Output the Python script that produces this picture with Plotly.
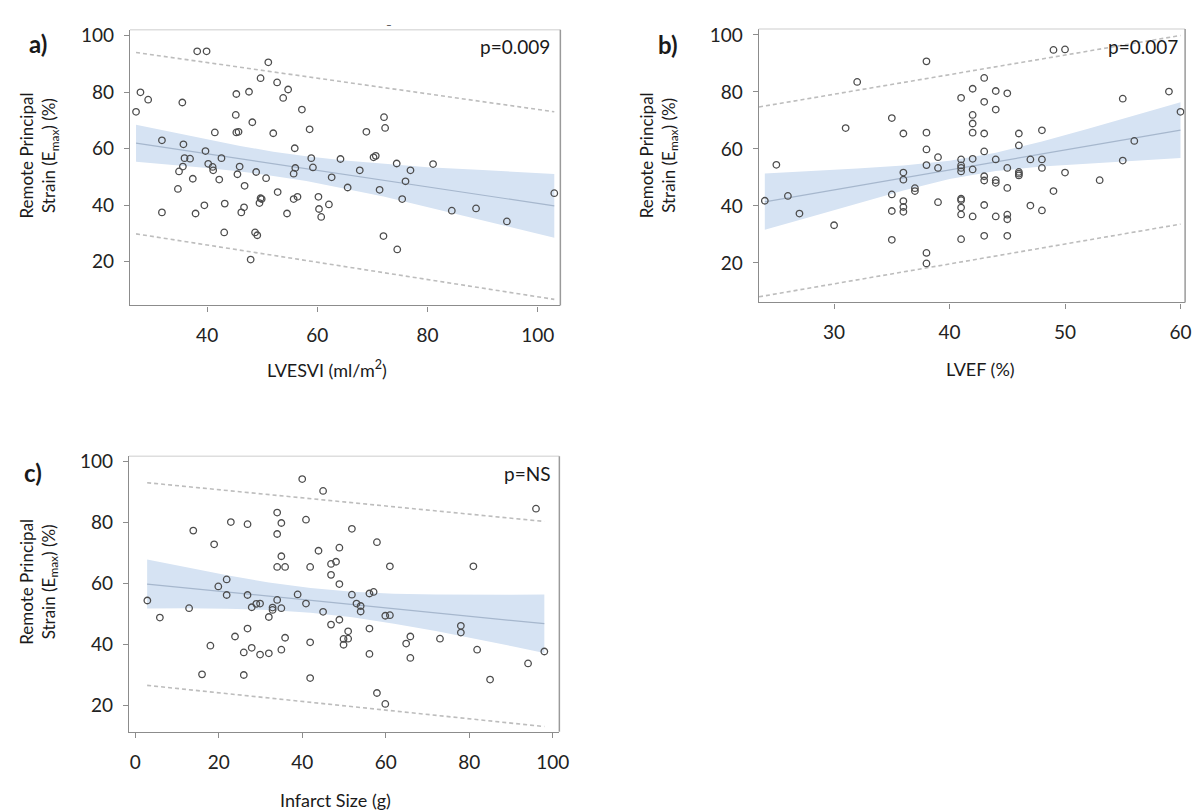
import plotly.graph_objects as go

# ---------------- data ----------------
a_x = [38.2, 39.9, 51.1, 27.9, 29.3, 27.1, 35.5, 45.3, 47.6, 49.7,
       52.7, 54.7, 53.8, 57.2, 45.2, 48.2, 45.3, 45.7, 41.4, 52.0,
       58.6, 72.1, 72.3, 68.9, 31.8, 35.7, 39.7, 35.9, 36.9, 42.6,
       40.2, 41.0, 41.1, 35.6, 34.9, 45.9, 45.5, 48.9, 50.7, 37.4,
       42.2, 34.7, 46.8, 55.9, 58.9, 56.0, 59.2, 55.7, 64.2, 62.6,
       67.7, 70.2, 70.6, 74.4, 76.9, 81.0, 76.0, 65.5, 71.3, 75.4,
       52.8, 49.7, 49.5, 49.9, 56.4, 55.7, 60.2, 62.1, 60.3, 60.7,
       54.5, 46.7, 46.2, 43.2, 39.5, 31.8, 37.9, 43.1, 48.7, 49.1,
       47.9, 72.0, 74.5, 84.4, 88.8, 94.4, 103.0]
a_y = [94.4, 94.4, 90.5, 79.9, 77.3, 73.0, 76.3, 79.3, 80.1, 84.9,
       83.4, 80.9, 77.9, 73.8, 71.9, 69.3, 65.7, 65.9, 65.7, 65.4,
       66.8, 71.1, 67.3, 65.9, 62.9, 61.5, 59.1, 56.6, 56.4, 56.6,
       54.6, 53.5, 52.3, 53.6, 51.9, 53.6, 50.9, 51.7, 49.5, 49.3,
       49.0, 45.7, 46.8, 60.1, 56.6, 53.1, 53.3, 51.1, 56.3, 49.8,
       52.3, 56.9, 57.4, 54.7, 52.3, 54.5, 48.4, 46.2, 45.4, 42.1,
       44.6, 42.4, 40.7, 42.1, 42.9, 42.1, 42.9, 40.2, 38.6, 35.8,
       37.0, 39.2, 37.4, 40.5, 39.9, 37.4, 37.0, 30.3, 30.3, 29.3,
       20.7, 29.0, 24.3, 38.0, 38.8, 34.2, 44.2]
a_fit_x = [27.1, 103.0]
a_fit_y = [61.9, 39.7]
a_pred_upper = [94.0, 73.0]
a_pred_lower = [29.8, 6.6]
a_band_x = [27.1, 34, 40, 46, 52, 58, 65, 72, 80, 90, 103]
a_band_upper = [68.4, 65.6, 63.1, 60.9, 58.9, 57.3, 55.8, 54.6, 53.4, 52.4, 51.0]
a_band_lower = [55.3, 54.2, 53.1, 51.9, 50.3, 48.5, 45.8, 43.0, 39.4, 34.6, 28.4]

b_x = [24, 25, 26, 27, 30, 31, 32,
       35, 35, 35, 35,
       36, 36, 36, 36, 36, 36,
       37, 37,
       38, 38, 38, 38, 38, 38,
       39, 39, 39,
       41, 41, 41, 41, 41, 41, 41, 41, 41, 41,
       42, 42, 42, 42, 42, 42, 42,
       43, 43, 43, 43, 43, 43, 43, 43,
       44, 44, 44, 44, 44, 44,
       45, 45, 45, 45, 45, 45,
       46, 46, 46, 46, 46,
       47, 47,
       48, 48, 48, 48,
       49, 49,
       50, 50,
       53,
       55, 55,
       56, 59, 60]
b_y = [41.8, 54.4, 43.5, 37.3, 33.2, 67.3, 83.5,
       70.8, 44.0, 38.2, 28.1,
       65.4, 51.7, 49.2, 41.7, 39.6, 37.9,
       46.2, 45.2,
       90.7, 65.7, 59.8, 54.3, 23.5, 19.8,
       57.1, 53.3, 41.3,
       77.9, 56.3, 54.2, 53.3, 52.1, 42.5, 42.0, 39.4, 37.0, 28.3,
       81.1, 71.9, 68.9, 65.7, 56.5, 52.8, 36.3,
       84.9, 76.5, 65.4, 59.1, 50.4, 48.9, 40.3, 29.5,
       80.3, 73.8, 56.3, 49.0, 48.1, 36.3,
       79.5, 53.3, 46.3, 36.9, 35.3, 29.5,
       65.4, 61.2, 51.9, 51.3, 50.7,
       56.3, 40.1,
       66.5, 56.3, 53.3, 38.4,
       94.7, 45.2,
       94.9, 51.7,
       49.0,
       77.6, 55.9,
       62.8, 80.1, 73.0]
b_fit_x = [24, 60]
b_fit_y = [41.4, 66.6]
b_pred_x = [23.5, 60]
b_pred_upper = [74.7, 99.8]
b_pred_lower = [8.1, 33.6]
b_band_x = [24, 28, 32, 36, 40, 44, 48, 52, 56, 60]
b_band_upper = [51.4, 52.2, 53.1, 54.2, 55.8, 58.6, 62.6, 67.1, 71.8, 76.4]
b_band_lower = [31.6, 36.2, 40.9, 45.4, 49.4, 52.2, 53.8, 54.9, 55.8, 56.8]

c_x = [40.0, 45.0, 96.0, 13.9, 22.9, 26.9, 34.0, 35.0, 34.0, 40.9,
       51.9, 18.9, 43.9, 48.9, 57.9, 35.0, 34.0, 35.9, 41.9, 46.9,
       48.1, 46.9, 61.0, 81.0, 48.9, 21.9, 19.9, 21.9, 26.9, 38.9,
       51.9, 56.1, 57.1, 34.0, 2.9, 12.9, 27.9, 29.0, 29.9, 32.9,
       32.9, 35.0, 40.9, 45.0, 53.0, 54.0, 54.0, 59.9, 61.0, 32.0,
       5.9, 48.9, 46.9, 26.9, 56.1, 78.0, 78.0, 23.9, 35.9, 51.0,
       49.9, 51.0, 49.9, 41.9, 65.9, 64.9, 73.0, 18.0, 27.9, 26.0,
       29.9, 32.0, 35.0, 56.1, 65.9, 81.9, 98.0, 94.1, 16.0, 26.0,
       41.9, 85.0, 57.9, 59.9]
c_y = [94.3, 90.4, 84.6, 77.4, 80.2, 79.5, 83.3, 79.9, 76.3, 81.0,
       78.0, 72.9, 70.8, 71.8, 73.6, 69.0, 65.5, 65.5, 65.5, 66.5,
       67.2, 62.9, 65.7, 65.7, 59.9, 61.4, 59.1, 56.3, 56.3, 56.5,
       56.4, 56.8, 57.3, 54.7, 54.5, 52.0, 52.3, 53.4, 53.5, 52.2,
       51.4, 52.0, 53.5, 50.8, 53.5, 52.7, 50.9, 49.5, 49.7, 49.1,
       48.9, 48.2, 46.6, 45.3, 45.3, 46.2, 44.0, 42.7, 42.3, 44.4,
       41.9, 42.0, 40.0, 40.8, 42.7, 40.4, 42.0, 39.7, 39.0, 37.5,
       36.8, 37.2, 38.4, 37.0, 35.7, 38.4, 37.8, 33.9, 30.3, 30.1,
       29.1, 28.6, 24.2, 20.6]
c_fit_x = [2.85, 98.0]
c_fit_y = [59.9, 46.9]
c_pred_upper = [93.1, 80.4]
c_pred_lower = [26.7, 13.2]
c_band_x = [2.85, 12, 22, 32, 42, 52, 62, 72, 82, 90, 98]
c_band_upper = [67.9, 65.4, 62.8, 60.4, 58.6, 57.4, 56.7, 56.5, 56.4, 56.4, 56.5]
c_band_lower = [51.9, 52.0, 51.8, 51.4, 50.5, 49.0, 46.9, 44.5, 41.8, 39.6, 37.3]

y_ticks = [20, 40, 60, 80, 100]
a_xticks = [40, 60, 80, 100]
b_xticks = [30, 40, 50, 60]
c_xticks = [0, 20, 40, 60, 80, 100]

# ---------------- figure ----------------
W, H = 1200, 810
FONT = "Lato"
AX_COL = "#8c8c8c"
fig = go.Figure()


def add_panel(sfx, xs, ys, fit_x, fit_y, pred_x, pu, pl, bx, bu, bl):
    xa, ya = "x" + sfx, "y" + sfx
    fig.add_trace(go.Scatter(
        x=bx + bx[::-1], y=bu + bl[::-1], xaxis=xa, yaxis=ya,
        fill="toself", fillcolor="rgba(214,227,243,1)",
        line=dict(width=0), mode="lines", hoverinfo="skip", showlegend=False))
    fig.add_trace(go.Scatter(
        x=fit_x, y=fit_y, xaxis=xa, yaxis=ya, mode="lines",
        line=dict(color="#a6b7cd", width=1.2), showlegend=False))
    for py in (pu, pl):
        fig.add_trace(go.Scatter(
            x=pred_x, y=py, xaxis=xa, yaxis=ya, mode="lines",
            line=dict(color="#bdbdbd", width=1.6, dash="4px,3px"),
            showlegend=False))
    fig.add_trace(go.Scatter(
        x=xs, y=ys, xaxis=xa, yaxis=ya, mode="markers",
        marker=dict(symbol="circle-open", size=6.5, color="#4d4d4d",
                    line=dict(width=1.3, color="#4d4d4d")),
        showlegend=False))


add_panel("", a_x, a_y, a_fit_x, a_fit_y, a_fit_x, a_pred_upper, a_pred_lower,
          a_band_x, a_band_upper, a_band_lower)
add_panel("2", b_x, b_y, b_fit_x, b_fit_y, b_pred_x, b_pred_upper, b_pred_lower,
          b_band_x, b_band_upper, b_band_lower)
add_panel("3", c_x, c_y, c_fit_x, c_fit_y, c_fit_x, c_pred_upper, c_pred_lower,
          c_band_x, c_band_upper, c_band_lower)


def px_dom_x(l, r):
    return [l / W, r / W]


def px_dom_y(t, b):
    return [1 - b / H, 1 - t / H]


axis_common = dict(showgrid=False, zeroline=False, showline=True,
                   linecolor=AX_COL, linewidth=1.2, ticks="outside",
                   ticklen=5, tickcolor=AX_COL, tickwidth=1,
                   tickfont=dict(family=FONT, size=19, color="#222"))

panels = {
    "": dict(xd=px_dom_x(123, 557), yd=px_dom_y(15, 293), xr=[26, 104.1],
             yr=[4.45, 102], xt=a_xticks),
    "2": dict(xd=px_dom_x(757, 1187), yd=px_dom_y(14, 290), xr=[23.47, 60.4],
              yr=[6.1, 102.1], xt=b_xticks),
    "3": dict(xd=px_dom_x(122, 556), yd=px_dom_y(445, 723), xr=[-1.5, 101.6],
              yr=[11.5, 101.8], xt=c_xticks),
}

layout_axes = {}
shapes = []
for sfx, p in panels.items():
    layout_axes["xaxis" + sfx] = dict(axis_common, domain=p["xd"], range=p["xr"],
                                      tickvals=p["xt"], anchor="y" + sfx,
                                      ticklabelstandoff=8)
    layout_axes["yaxis" + sfx] = dict(axis_common, domain=p["yd"], range=p["yr"],
                                      tickvals=y_ticks, anchor="x" + sfx,
                                      ticklabelstandoff=6)
    xr = "x" + sfx + " domain"
    yr = "y" + sfx + " domain"
    shapes.append(dict(type="line", xref=xr, yref=yr, x0=0, x1=1, y0=1, y1=1,
                       line=dict(color="#dedede", width=1.5)))
    shapes.append(dict(type="line", xref=xr, yref=yr, x0=1, x1=1, y0=0, y1=1,
                       line=dict(color="#9a9a9a", width=1.5)))


def ann(x, y, text, size, bold=False, xanchor="center", angle=0, color="#1a1a1a"):
    return dict(x=x / W, y=1 - y / H, xref="paper", yref="paper", text=text,
                showarrow=False, xanchor=xanchor, yanchor="middle",
                textangle=angle,
                font=dict(family=FONT, size=size, color=color,
                          weight="bold" if bold else "normal"))


ytitle = "Remote Principal<br>Strain (E<sub>max</sub>) (%)"
annotations = [
    ann(30, 29, "a)", 24, bold=True),
    ann(666, 30, "b)", 24, bold=True),
    ann(25, 461, "c)", 24, bold=True),
    ann(31, 142, ytitle, 17, angle=-90),
    ann(656, 142, ytitle, 17, angle=-90),
    ann(31, 572, ytitle, 17, angle=-90),
    ann(322, 357, "LVESVI (ml/m<sup>2</sup>)", 18),
    ann(981, 357, "LVEF (%)", 18),
    ann(330, 792, "Infarct Size (g)", 18),
    ann(549, 32, "p=0.009", 19, xanchor="right"),
    ann(1182, 32, "p=0.007", 19, xanchor="right"),
    ann(549, 463, "p=NS", 19, xanchor="right"),
    ann(384, 9, "–", 10),
]

fig.update_layout(
    width=W, height=H, margin=dict(l=0, r=0, t=0, b=0),
    paper_bgcolor="white", plot_bgcolor="white",
    font=dict(family=FONT, color="#222"),
    shapes=shapes, annotations=annotations, showlegend=False,
    **layout_axes)

fig.write_html("out.html")
